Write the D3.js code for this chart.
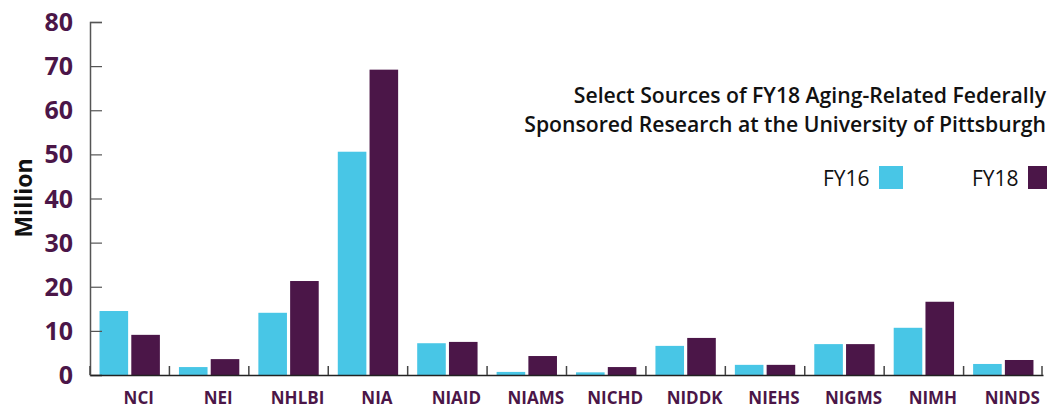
<!DOCTYPE html>
<html>
<head>
<meta charset="utf-8">
<script src="https://cdn.jsdelivr.net/npm/d3@7"></script>
<style>
  body { margin: 0; background: #fff; }
  svg { display: block; font-family: "Open Sans", "Lato", sans-serif; }
</style>
</head>
<body>
<svg id="chart" width="1047" height="412"></svg>
<script>
const width = 1047;
const height = 412;

// data
const categories = ["NCI", "NEI", "NHLBI", "NIA", "NIAID", "NIAMS", "NICHD", "NIDDK", "NIEHS", "NIGMS", "NIMH", "NINDS"];
const fy16 = [14.5, 1.8, 14.1, 50.6, 7.2, 0.7, 0.6, 6.6, 2.3, 7.0, 10.7, 2.5];
const fy18 = [9.1, 3.6, 21.3, 69.2, 7.5, 4.3, 1.8, 8.4, 2.3, 7.0, 16.6, 3.4];
const seriesNames = ["FY16", "FY18"];
const yTicks = [0, 10, 20, 30, 40, 50, 60, 70, 80];
const titleLines = ["Select Sources of FY18 Aging-Related Federally", "Sponsored Research at the University of Pittsburgh"];

const colors = { FY16: "#48c6e6", FY18: "#4b1648" };
const purple = "#4b1648";

const svg = d3.select("#chart");
const margin = { left: 90, right: 4, top: 22, bottom: 37 };

const x = d3.scaleBand()
    .domain(categories)
    .range([margin.left, width - margin.right])
    .paddingInner(0)
    .paddingOuter(0);

const x1 = d3.scaleBand()
    .domain(seriesNames)
    .range([0, x.bandwidth()])
    .paddingInner(0.1)
    .paddingOuter(0.3);

const y = d3.scaleLinear()
    .domain([0, 80])
    .range([height - margin.bottom, margin.top]);

const rows = categories.map((c, i) => ({ cat: c, FY16: fy16[i], FY18: fy18[i] }));

// bars
const groups = svg.append("g")
    .selectAll("g")
    .data(rows)
    .enter()
    .append("g")
    .attr("transform", d => `translate(${x(d.cat)},0)`);

groups.selectAll("rect")
    .data(d => seriesNames.map(s => ({ key: s, value: d[s] })))
    .enter()
    .append("rect")
    .attr("x", d => x1(d.key))
    .attr("width", x1.bandwidth())
    .attr("y", d => y(d.value))
    .attr("height", d => y(0) - y(d.value))
    .attr("fill", d => colors[d.key]);

// y axis
const yAxis = svg.append("g")
    .attr("transform", `translate(${margin.left},0)`)
    .call(d3.axisRight(y).tickValues(yTicks).tickSize(12).tickFormat(""));
yAxis.select(".domain").attr("stroke", "#555").attr("stroke-width", 1.5);
yAxis.selectAll(".tick line").attr("stroke", "#555").attr("stroke-width", 1.2);

svg.append("g")
    .selectAll("text")
    .data(yTicks)
    .enter()
    .append("text")
    .attr("x", 73)
    .attr("y", d => y(d))
    .attr("dy", "0.36em")
    .attr("text-anchor", "end")
    .attr("font-size", 25)
    .attr("font-weight", 700)
    .attr("fill", purple)
    .text(d => d);

// x axis
const xAxis = svg.append("g")
    .attr("transform", `translate(0,${y(0)})`)
    .call(d3.axisBottom(x).tickSize(0).tickFormat(""));
xAxis.select(".domain").attr("stroke", "#222").attr("stroke-width", 1.5);

svg.append("g")
    .selectAll("line")
    .data(categories.map(c => x(c)).concat([x.range()[1] - 1]))
    .enter()
    .append("line")
    .attr("x1", d => d)
    .attr("x2", d => d)
    .attr("y1", y(0))
    .attr("y2", y(0) - 9)
    .attr("stroke", "#444")
    .attr("stroke-width", 1.5);

svg.append("g")
    .selectAll("text")
    .data(categories)
    .enter()
    .append("text")
    .attr("x", d => x(d) + x.bandwidth() / 2 + 9)
    .attr("y", 404)
    .attr("text-anchor", "middle")
    .attr("font-size", 17)
    .attr("font-weight", 700)
    .attr("fill", purple)
    .text(d => d);

// y axis title
svg.append("text")
    .attr("transform", "translate(32,198) rotate(-90)")
    .attr("text-anchor", "middle")
    .attr("font-size", 23)
    .attr("font-weight", 700)
    .attr("fill", "#111")
    .text("Million");

// chart title
svg.append("g")
    .selectAll("text")
    .data(titleLines)
    .enter()
    .append("text")
    .attr("x", 1046)
    .attr("y", (d, i) => 103 + i * 29)
    .attr("text-anchor", "end")
    .attr("font-size", 21.2)
    .attr("font-weight", 600)
    .attr("fill", "#111")
    .text(d => d);

// legend
const legendX = [823, 972];
const legend = svg.append("g")
    .selectAll("g")
    .data(seriesNames)
    .enter()
    .append("g")
    .attr("transform", (d, i) => `translate(${legendX[i]},0)`);

legend.append("text")
    .attr("x", 0)
    .attr("y", 186)
    .attr("font-size", 21)
    .attr("font-weight", 400)
    .attr("fill", "#111")
    .text(d => d);

legend.append("rect")
    .attr("x", 56)
    .attr("y", 166)
    .attr("width", 24)
    .attr("height", 23)
    .attr("fill", d => colors[d]);
</script>
</body>
</html>
